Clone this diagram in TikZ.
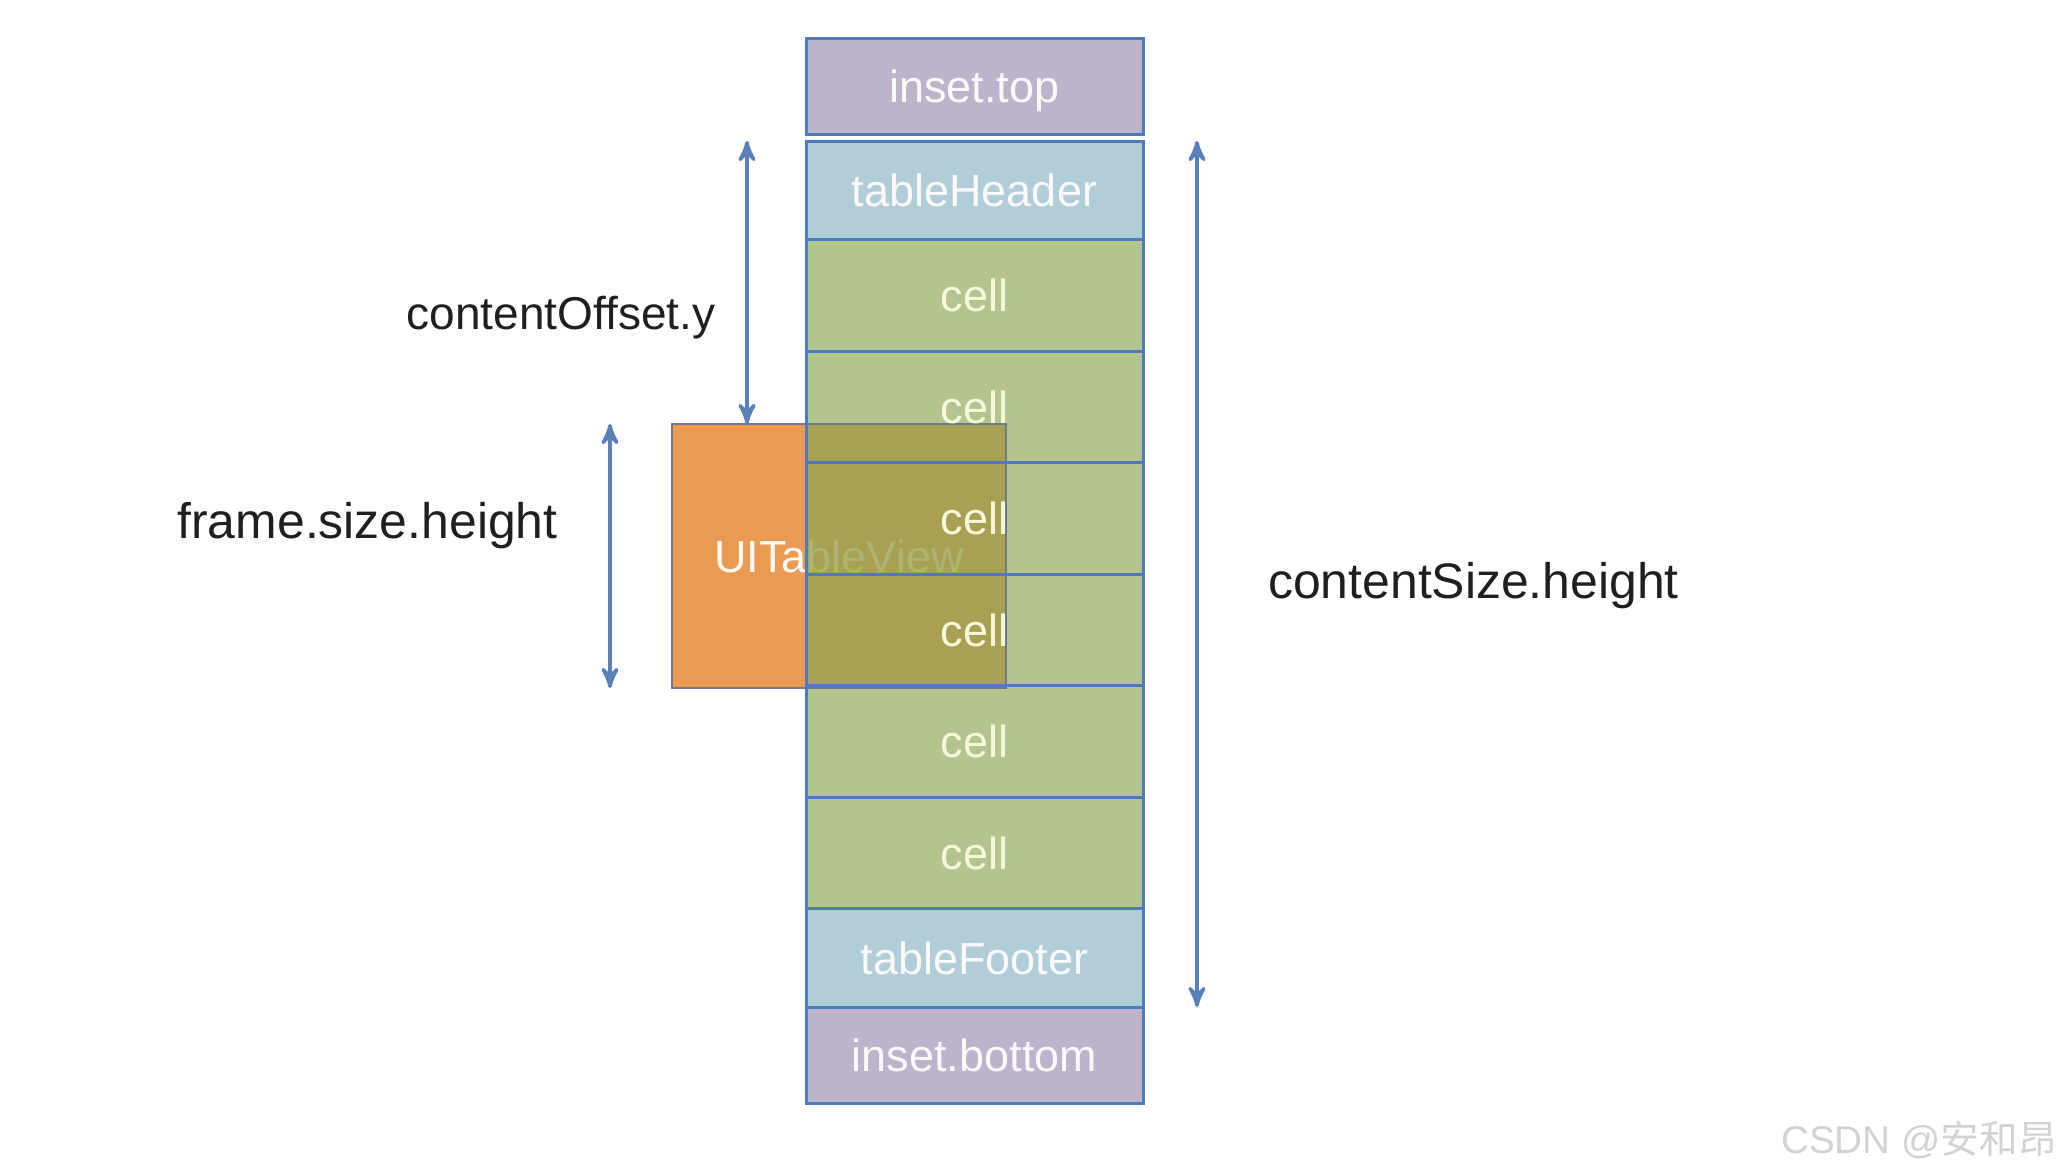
\documentclass[tikz,border=0pt]{standalone}
\usepackage{fontspec}
\setmainfont{Liberation Sans}
\newfontfamily\cjkfont{Noto Sans CJK SC}
\usetikzlibrary{arrows,positioning}

\definecolor{insetpurple}{HTML}{BDB4CC}
\definecolor{headblue}{HTML}{B1CDD8}
\definecolor{cellgreen}{HTML}{B3C48E}
\definecolor{slotline}{HTML}{4E7ABE}
\definecolor{viewfill}{HTML}{EA9A52}
\definecolor{viewolive}{HTML}{98A253}
\definecolor{viewedge}{HTML}{707A8C}
\definecolor{arrowblue}{HTML}{5A80B9}
\definecolor{celltext}{HTML}{F6F8DA}
\definecolor{marktext}{HTML}{D2D2D2}

\pgfdeclarelayer{fills}
\pgfdeclarelayer{view}
\pgfsetlayers{fills,view,main}

\begin{document}
\begin{tikzpicture}[>=stealth',
  slotbox/.style={draw=slotline,line width=0.03cm,minimum width=3.37cm,inner sep=0pt,outer sep=0pt,text depth=0pt,font=\fontsize{12.8}{14}\selectfont,text=white!95!gray},
  insetbox/.style={slotbox,minimum height=0.96cm},
  edgebox/.style={slotbox,minimum height=0.985cm},
  cellbox/.style={slotbox,minimum height=1.115cm,text=celltext},
  viewbox/.style={fill=viewfill,minimum width=3.34cm,minimum height=2.64cm,inner sep=0pt,outer sep=0pt,font=\fontsize{12.8}{14}\selectfont,text=white!96!orange},
  sizearrow/.style={<->,draw=arrowblue,line width=0.036cm},
  sizelabel/.style={anchor=base,text=black!88,font=\fontsize{14.2}{16}\selectfont}]

  \useasboundingbox (0,0) rectangle (20.58,-11.72);

  % the content column
  \node[insetbox] (itop) at (9.745,-0.86) {inset.top};
  \node[edgebox] (head) [below=0.07cm of itop] {tableHeader};
  \node[cellbox] (c1) [below=0pt of head] {cell};
  \node[cellbox] (c2) [below=0pt of c1] {cell};
  \node[cellbox] (c3) [below=0pt of c2] {cell};
  \node[cellbox] (c4) [below=0pt of c3] {cell};
  \node[cellbox] (c5) [below=0pt of c4] {cell};
  \node[cellbox] (c6) [below=0pt of c5] {cell};
  \node[edgebox] (foot) [below=0pt of c6] {tableFooter};
  \node[insetbox] (ibot) [below=0pt of foot] {inset.bottom};

  \begin{pgfonlayer}{fills}
    \fill[insetpurple] (itop.north west) rectangle (itop.south east);
    \fill[headblue] (head.north west) rectangle (head.south east);
    \fill[cellgreen] (c1.north west) rectangle (c6.south east);
    \fill[headblue] (foot.north west) rectangle (foot.south east);
    \fill[insetpurple] (ibot.north west) rectangle (ibot.south east);
  \end{pgfonlayer}

  % the visible frame
  \begin{pgfonlayer}{view}
    \node[viewbox] (view) at (8.39,-5.56) {UITableView};
    \fill[viewolive,fill opacity=0.8] (view.north -| c3.west) rectangle (view.south east);
    \draw[viewedge,line width=0.012cm] (view.north west) rectangle (view.south east);
  \end{pgfonlayer}

  % measures
  \coordinate (offx) at (7.47,0);
  \coordinate (framex) at (6.10,0);
  \coordinate (sizex) at (11.97,0);

  \draw[sizearrow] (head.north -| offx) -- (view.north -| offx);
  \draw[sizearrow] (view.north -| framex) -- (view.south -| framex);
  \draw[sizearrow] (head.north -| sizex) -- (foot.south -| sizex);

  \node[sizelabel,font=\fontsize{13.1}{15}\selectfont] (offlabel) at (5.61,-3.29) {contentOffset.y};
  \node[sizelabel] (framelabel) at (3.675,-5.38) {frame.size.height};
  \node[sizelabel] (sizelabel) at (14.735,-5.98) {contentSize.height};

  \node[anchor=base,text=marktext,font=\fontsize{11}{13}\selectfont] (mark) at (19.19,-11.53) {CSDN @{\cjkfont 安和昂}};

\end{tikzpicture}
\end{document}
